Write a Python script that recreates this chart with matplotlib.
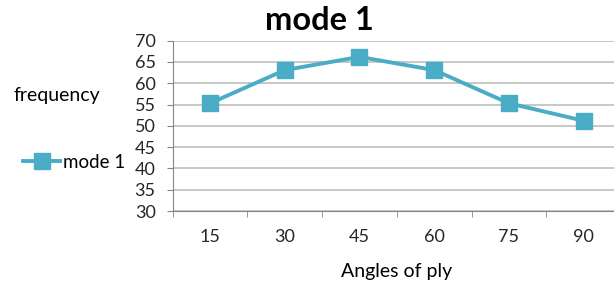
import matplotlib
matplotlib.use("Agg")
import matplotlib.pyplot as plt
import numpy as np

angles = ["15", "30", "45", "60", "75", "90"]
mode1 = [55.3, 63.1, 66.2, 63.1, 55.3, 51.2]

W, H = 614, 282
plt.rcParams['font.family'] = ['Lato', 'DejaVu Sans']

fig = plt.figure(figsize=(W / 100, H / 100), dpi=100)
left, right, top, bottom = 172.7, 621, 40.7, 211
ax = fig.add_axes([left / W, 1 - bottom / H, (right - left) / W, (bottom - top) / H])

x = np.arange(len(angles))
line, = ax.plot(x, mode1, color="#4BACC6", lw=2.8, marker="s", ms=11,
                markeredgecolor="#4BACC6", label="mode 1", zorder=3)

ax.set_xlim(-0.5, len(angles) - 0.5)
ax.set_ylim(30, 70)
ax.set_yticks(np.arange(30, 71, 5))
ax.yaxis.grid(True, color="#BFBFBF", lw=1.2)
ax.set_axisbelow(True)
ax.set_xticks(x)
ax.set_xticklabels(angles)
ax.set_xticks(np.arange(-0.5, len(angles)), minor=True)
ax.tick_params(axis="x", which="major", length=0, pad=13, labelsize=13, colors="#262626")
ax.tick_params(axis="x", which="minor", length=4.3, color="#868686")
ax.tick_params(axis="y", length=4.3, color="#868686", labelsize=13, labelcolor="#262626", pad=8)
for s in ["top", "right"]:
    ax.spines[s].set_visible(False)
for s in ["left", "bottom"]:
    ax.spines[s].set_color("#868686")

ax.set_xlabel("Angles of ply", fontsize=14, color="#000000", labelpad=13)
fig.text(14 / W, 1 - 95 / H, "frequency", fontsize=14, va="center", ha="left")
fig.text(319 / W, 1 - 20 / H, "mode 1", fontsize=23.5, fontweight="bold", va="center", ha="center")

fig.legend(handles=[line], loc="center left", bbox_to_anchor=(6 / W, 1 - 162 / H),
           frameon=False, fontsize=13.5, handlelength=2.0, handletextpad=0.15)

fig.savefig("out.png", dpi=100)
